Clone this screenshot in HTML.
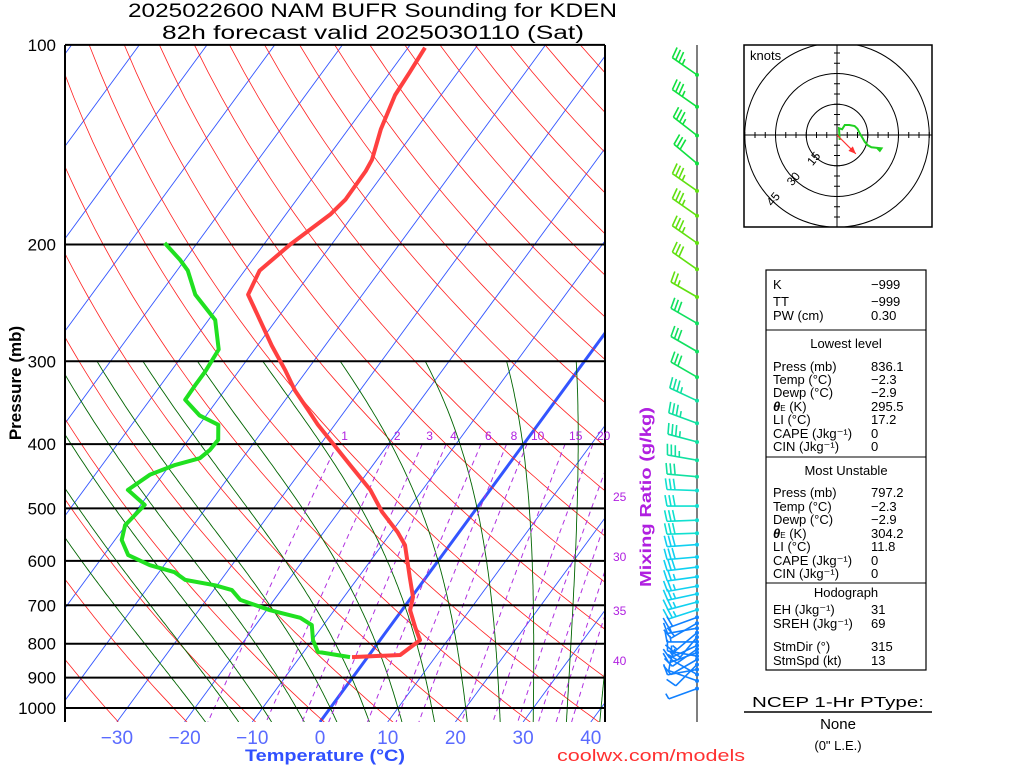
<!DOCTYPE html>
<html><head><meta charset="utf-8"><title>NAM BUFR Sounding KDEN</title>
<style>
html,body{margin:0;padding:0;background:#fff;width:1024px;height:768px;overflow:hidden}
svg{display:block}
text{font-family:"Liberation Sans",sans-serif}
</style></head>
<body>
<svg id="chart" xmlns="http://www.w3.org/2000/svg" width="1024" height="768" viewBox="0 0 1024 768">
<defs><clipPath id="plotclip"><rect x="65" y="45" width="540" height="677"/></clipPath>
<clipPath id="hodoclip"><rect x="744" y="45" width="188" height="182"/></clipPath></defs>
<rect width="1024" height="768" fill="#fff"/>
<text x="128" y="17" font-size="19" textLength="489" lengthAdjust="spacingAndGlyphs">2025022600 NAM BUFR Sounding for KDEN</text>
<text x="162" y="39" font-size="19" textLength="422" lengthAdjust="spacingAndGlyphs">82h forecast valid 2025030110 (Sat)</text>
<g id="bg" clip-path="url(#plotclip)"></g>
<g id="isobars"></g>
<g id="profiles" clip-path="url(#plotclip)"></g>
<g id="labels"></g>
<text transform="translate(21,383) rotate(-90)" text-anchor="middle" font-size="17" font-weight="bold">Pressure (mb)</text>
<text x="325" y="761" text-anchor="middle" font-size="17" font-weight="bold" fill="#3050ff" textLength="160" lengthAdjust="spacingAndGlyphs">Temperature (°C)</text>
<text x="557" y="761" font-size="17" fill="#ff3030" textLength="188" lengthAdjust="spacingAndGlyphs">coolwx.com/models</text>
<text transform="translate(651,497) rotate(-90)" text-anchor="middle" font-size="16" font-weight="bold" fill="#b020e0" textLength="180" lengthAdjust="spacingAndGlyphs">Mixing Ratio (g/kg)</text>
<line x1="697" y1="45" x2="697" y2="722" stroke="#555" stroke-width="1.5"/>
<g id="barbs"></g>
<g id="hodo">
<rect x="744" y="45" width="188" height="182" fill="#fff" stroke="#000" stroke-width="1.5"/>
<text x="750" y="60" font-size="13">knots</text>
</g>
<g font-size="13">
<rect x="766" y="270" width="160" height="400" fill="none" stroke="#000" stroke-width="1.2"/>
<line x1="766" y1="330" x2="926" y2="330" stroke="#000"/>
<line x1="766" y1="457" x2="926" y2="457" stroke="#000"/>
<line x1="766" y1="583" x2="926" y2="583" stroke="#000"/>
<text x="773" y="289">K</text><text x="871" y="289">−999</text>
<text x="773" y="306">TT</text><text x="871" y="306">−999</text>
<text x="773" y="320">PW (cm)</text><text x="871" y="320">0.30</text>
<text x="846" y="348" text-anchor="middle">Lowest level</text>
<text x="773" y="371">Press (mb)</text><text x="871" y="371">836.1</text>
<text x="773" y="384">Temp (°C)</text><text x="871" y="384">−2.3</text>
<text x="773" y="397">Dewp (°C)</text><text x="871" y="397">−2.9</text>
<text x="773" y="411"><tspan font-weight="bold" font-style="italic">θ</tspan><tspan font-size="8">E</tspan> (K)</text><text x="871" y="411">295.5</text>
<text x="773" y="424">LI (°C)</text><text x="871" y="424">17.2</text>
<text x="773" y="438">CAPE (Jkg⁻¹)</text><text x="871" y="438">0</text>
<text x="773" y="451">CIN (Jkg⁻¹)</text><text x="871" y="451">0</text>
<text x="846" y="475" text-anchor="middle">Most Unstable</text>
<text x="773" y="497">Press (mb)</text><text x="871" y="497">797.2</text>
<text x="773" y="511">Temp (°C)</text><text x="871" y="511">−2.3</text>
<text x="773" y="524">Dewp (°C)</text><text x="871" y="524">−2.9</text>
<text x="773" y="538"><tspan font-weight="bold" font-style="italic">θ</tspan><tspan font-size="8">E</tspan> (K)</text><text x="871" y="538">304.2</text>
<text x="773" y="551">LI (°C)</text><text x="871" y="551">11.8</text>
<text x="773" y="565">CAPE (Jkg⁻¹)</text><text x="871" y="565">0</text>
<text x="773" y="578">CIN (Jkg⁻¹)</text><text x="871" y="578">0</text>
<text x="846" y="597" text-anchor="middle">Hodograph</text>
<text x="773" y="614">EH (Jkg⁻¹)</text><text x="871" y="614">31</text>
<text x="773" y="628">SREH (Jkg⁻¹)</text><text x="871" y="628">69</text>
<text x="773" y="651">StmDir (°)</text><text x="871" y="651">315</text>
<text x="773" y="665">StmSpd (kt)</text><text x="871" y="665">13</text>
</g>
<g>
<text x="838" y="707" text-anchor="middle" font-size="15" textLength="172" lengthAdjust="spacingAndGlyphs">NCEP 1-Hr PType:</text>
<line x1="744" y1="712" x2="932" y2="712" stroke="#000" stroke-width="1.5"/>
<text x="838" y="729" text-anchor="middle" font-size="15">None</text>
<text x="838" y="750" text-anchor="middle" font-size="13">(0" L.E.)</text>
</g>
</svg>
<script>
// ---- sounding data ----
const presT = [838,832,790,757,712,680,637,568,543,506,469,430,394,374,355,332,309,284,260,238,219,200,180,171,155,149,134,119,110,101];
const tempC = [-2.3,4.6,5.9,3.9,1.2,0.2,-2.3,-6.6,-9.1,-13.6,-17.7,-23.4,-29.1,-32.5,-35.6,-39.6,-43.3,-47.9,-52.4,-56.9,-57.8,-56.1,-53.4,-52.8,-52.9,-53.2,-55.2,-56.8,-57.1,-57.5];
const presD = [838,823,790,750,731,712,687,664,653,641,624,609,588,558,530,494,469,445,430,420,408,394,374,362,343,326,311,288,260,238,219,211,199];
const dewC = [-2.6,-7.9,-9.9,-11.7,-14.2,-19.5,-25.0,-27.3,-30.3,-35.3,-37.7,-42.1,-46.4,-49.0,-50.1,-49.4,-53.5,-51.9,-49.2,-46.3,-45.7,-45.6,-47.2,-51.0,-54.8,-54.9,-54.9,-55.3,-59.0,-64.7,-68.4,-70.7,-74.8];
const pressureTicks = [100,200,300,400,500,600,700,800,900,1000];
const tempTicks = [-30,-20,-10,0,10,20,30,40];
const mixRatios = [1,2,3,4,6,8,10,15,20];
const mixExtra = [25,30,35,40];
const mixExtraP = [481,592,714,849];
const barbP = [111,124,137,151,166,181,199,218,240,263,290,317,344,372,397,423,448,470,496,521,545,567,592,613,634,655,673,692,711,730,745,758,770,782,795,805,815,825,835,845,860,875,890,910,935];
const barbDir = [305,305,308,310,305,305,305,305,300,300,300,300,295,290,285,280,275,272,270,268,268,266,265,263,262,260,258,255,252,250,240,260,230,220,270,245,235,250,280,240,225,260,300,290,250];
const barbSpd = [35,35,35,30,35,35,35,30,25,30,30,30,35,35,35,35,30,30,30,30,30,30,30,30,25,25,25,25,25,20,20,15,15,20,15,15,10,15,15,10,10,10,10,10,5];
const hodoU = [1.3,1.0,2.5,3.8,6.0,8.6,10.0,11.1,12.5,13.5,15.0,16.8,19.5,21.7,20.9,19.2];
const hodoV = [-2.4,3.3,2.8,4.9,4.9,4.4,3.0,0.8,-1.5,-3.3,-5.0,-6.0,-6.3,-6.5,-7.7,-6.0];
const stormDir = 315, stormSpd = 13;

const NS='http://www.w3.org/2000/svg';
function yP(p){return 708+288*Math.log(p/1000);}
function xT(t,y){return 320+6.77*t+0.733*(722-y);}
function mk(tag,attrs,parent){const e=document.createElementNS(NS,tag);for(const k in attrs)e.setAttribute(k,attrs[k]);parent.appendChild(e);return e;}
function pathFrom(pts){return pts.map((q,i)=>(i?'L':'M')+q[0].toFixed(1)+' '+q[1].toFixed(1)).join(' ');}
const bg=document.getElementById('bg');
for(let t=-130;t<=40;t+=10){
  const e=mk('line',{x1:xT(t,722),y1:722,x2:xT(t,45),y2:45,stroke:'#3355ff','stroke-width':t===0?3:0.9},bg);
  
  
}
for(let th=200;th<=520;th+=10){
  const pts=[];for(let p=1060;p>=95;p-=10){const t=th*Math.pow(p/1000,0.2857)-273.15;const y=yP(p);pts.push([xT(t,y),y]);}
  const e=mk('path',{d:pathFrom(pts),fill:'none',stroke:'#ff2020','stroke-width':0.8},bg);
  
  
}
function es(t){return 6.112*Math.exp(17.67*t/(t+243.5));}
function moistRate(t,p){const Tk=t+273.15,r=0.622*es(t)/(p-es(t));return (287*Tk+2.5e6*r)/(p*(1005+2.5e6*2.5e6*r*0.622/(287*Tk*Tk)));}
for(let tw=-20;tw<=40;tw+=5){
  let t=tw,p=1000;const up=[];
  while(p>=300){const y=yP(p);up.push([xT(t,y),y]);t-=moistRate(t,p)*5;p-=5;}
  t=tw;p=1000;const dn=[];
  while(p<=1060){const y=yP(p);dn.unshift([xT(t,y),y]);t+=moistRate(t,p)*5;p+=5;}
  const e=mk('path',{d:pathFrom(dn.concat(up)),fill:'none',stroke:'#006400','stroke-width':0.9},bg);
  
  
}
function tdOf(w,p){const e=(w/1000)*p/(0.622+w/1000);const l=Math.log(e/6.112);return 243.5*l/(17.67-l);}
mixRatios.concat(mixExtra).forEach(w=>{
  const pts=[];for(let p=400;p<=1060;p+=10){const y=yP(p);pts.push([xT(tdOf(w,p),y),y]);}
  const e=mk('path',{d:pathFrom(pts),fill:'none',stroke:'#b030e0','stroke-width':1,'stroke-dasharray':'5,4'},bg);
  
  
});
const lab=document.getElementById('labels');
mixRatios.forEach(w=>{
  const y=yP(400);const x=xT(tdOf(w,400),y)+4;
  const e=mk('text',{x:x,y:y-4,'font-size':12,fill:'#b020e0'},lab);e.textContent=w;
  
  
});
mixExtra.forEach((w,i)=>{
  const e=mk('text',{x:613,y:yP(mixExtraP[i])+4,'font-size':12,fill:'#b020e0'},lab);e.textContent=w;
  
  
});
const iso=document.getElementById('isobars');
pressureTicks.forEach(p=>{
  const y=yP(p);
  const l=mk('line',{x1:65,y1:y,x2:605,y2:y,stroke:'#000','stroke-width':2},iso);
  
  
  const t=mk('text',{x:56,y:y+6,'font-size':17,'text-anchor':'end'},lab);t.textContent=p;
  
  
});
const fl=mk('line',{x1:65,y1:45,x2:65,y2:722,stroke:'#000','stroke-width':2},iso);


const fr=mk('line',{x1:605,y1:45,x2:605,y2:722,stroke:'#000','stroke-width':2},iso);


tempTicks.forEach(t=>{
  const e=mk('text',{x:xT(t,722),y:744,'font-size':19,'text-anchor':'middle',fill:'#5a6aff'},lab);
  e.textContent=(t<0?'−':'')+Math.abs(t);
  
  
});
const prof=document.getElementById('profiles');
const tp=presT.map((p,i)=>{const y=yP(p);return [xT(tempC[i],y),y];});
const tl=mk('path',{d:pathFrom(tp),fill:'none',stroke:'#ff4040','stroke-width':4,'stroke-linejoin':'round'},prof);


const dp=presD.map((p,i)=>{const y=yP(p);return [xT(dewC[i],y),y];});
const dl=mk('path',{d:pathFrom(dp),fill:'none',stroke:'#20e020','stroke-width':4,'stroke-linejoin':'round'},prof);


function barbColor(p){
  if(p<160)return '#10e040';
  if(p<250)return '#60e010';
  if(p<330)return '#10e060';
  if(p<460)return '#10e0a0';
  if(p<560)return '#10e0d0';
  if(p<720)return '#10d0f0';
  return '#1080ff';
}
const bg2=document.getElementById('barbs');
barbP.forEach((p,i)=>{
  const y=yP(p),x=697,d=barbDir[i]*Math.PI/180,s=barbSpd[i],c=barbColor(p);
  const sx=Math.sin(d),sy=-Math.cos(d),L=30;
  const px=-sy,py=sx;
  let dstr='M'+x+' '+y.toFixed(1)+' L'+(x+sx*L).toFixed(1)+' '+(y+sy*L).toFixed(1);
  let rem=s,k=0;
  while(rem>=10){const bx=x+sx*(L-k*4),by=y+sy*(L-k*4);dstr+=' M'+bx.toFixed(1)+' '+by.toFixed(1)+' L'+(bx+px*11+sx*2).toFixed(1)+' '+(by+py*11+sy*2).toFixed(1);rem-=10;k++;}
  if(rem>=5){const bx=x+sx*(L-k*4),by=y+sy*(L-k*4);dstr+=' M'+bx.toFixed(1)+' '+by.toFixed(1)+' L'+(bx+px*6+sx*1).toFixed(1)+' '+(by+py*6+sy*1).toFixed(1);}
  const e=mk('path',{d:dstr,fill:'none',stroke:c,'stroke-width':1.6},bg2);
  
  
  const dot=mk('circle',{cx:x,cy:y,r:2,fill:c},bg2);
  
  
});
const hg=document.getElementById('hodo');
const cx=837,cy=135,sc=2.05;
const hc=mk('g',{'clip-path':'url(#hodoclip)'},hg);


[15,30,45].forEach(r=>{
  const e=mk('circle',{cx:cx,cy:cy,r:r*sc,fill:'none',stroke:'#000','stroke-width':1},hc);
  
  
  const a=Math.PI*0.75;const tx=cx+Math.cos(a)*r*sc*0.93,ty=cy+Math.sin(a)*r*sc*0.93+6;
  const t=mk('text',{x:tx,y:ty,'font-size':12,'text-anchor':'middle',transform:'rotate(-50 '+tx+' '+ty+')'},hc);
  t.textContent=r;
  
  
});
const ax=mk('path',{d:'M744 '+cy+' L932 '+cy+' M'+cx+' 45 L'+cx+' 227',stroke:'#000','stroke-width':1},hg);


let tk='';for(let k=-45;k<=45;k+=5){if(!k)continue;const o=k*sc;tk+='M'+(cx+o)+' '+(cy-3)+' L'+(cx+o)+' '+(cy+3)+' M'+(cx-3)+' '+(cy+o)+' L'+(cx+3)+' '+(cy+o)+' ';}
const tke=mk('path',{d:tk,stroke:'#000','stroke-width':1},hc);


const hp=hodoU.map((u,i)=>[cx+u*sc,cy-hodoV[i]*sc]);
const he=mk('path',{d:pathFrom(hp),fill:'none',stroke:'#20d020','stroke-width':2},hg);


const sd=stormDir*Math.PI/180;const su=-Math.sin(sd)*stormSpd,sv=-Math.cos(sd)*stormSpd;
const ex=cx+su*sc,ey=cy-sv*sc;
const sa=mk('line',{x1:cx,y1:cy,x2:ex,y2:ey,stroke:'#ff3030','stroke-width':1.2},hg);


const ang=Math.atan2(ey-cy,ex-cx);
const hd=mk('polygon',{points:[[ex,ey],[ex-8*Math.cos(ang-0.4),ey-8*Math.sin(ang-0.4)],[ex-8*Math.cos(ang+0.4),ey-8*Math.sin(ang+0.4)]].map(q=>q.join(',')).join(' '),fill:'#ff3030'},hg);


</script>
</body></html>
